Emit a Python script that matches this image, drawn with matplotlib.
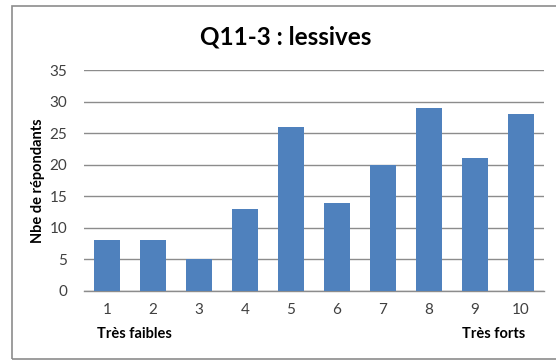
import numpy as np
import matplotlib
matplotlib.use('Agg')
import matplotlib.pyplot as plt
from matplotlib.patches import Rectangle

# Réponses Q11-3 (lessives), échelle de 1 à 10
notes = [1, 2, 3, 4, 5, 6, 7, 8, 9, 10]
repondants = [8, 8, 5, 13, 26, 14, 20, 29, 21, 28]
yticks = [0, 5, 10, 15, 20, 25, 30, 35]

plt.rcParams['font.family'] = ['Lato', 'DejaVu Sans']

W, H = 556, 361
fig = plt.figure(figsize=(W / 100, H / 100), dpi=100)

# cadre du graphique
fig.patches.append(Rectangle((12 / W, 2 / H), 1.0, 1 - 8 / H,
                             transform=fig.transFigure, fill=False,
                             edgecolor='#8c8c8c', linewidth=1.2))

ax = fig.add_axes([84 / W, 1 - 291 / H, 460 / W, 221 / H])
x = np.arange(len(notes))
ax.bar(x, repondants, width=0.565, color='#4f81bd', zorder=3)

ax.set_xlim(-0.5, len(notes) - 0.5)
ax.set_ylim(0, 35)
ax.set_yticks(yticks)
ax.set_xticks(x)
ax.set_xticklabels([str(n) for n in notes])
ax.grid(axis='y', color='#8c8c8c', linewidth=1.0, zorder=0)

for side in ['left', 'right', 'top']:
    ax.spines[side].set_visible(False)
ax.spines['bottom'].set_color('#8c8c8c')
ax.spines['bottom'].set_linewidth(1.0)
ax.tick_params(axis='x', length=0, pad=9, labelsize=11, labelcolor='#404040')
ax.tick_params(axis='y', length=0, pad=12, labelsize=11, labelcolor='#404040')

ax.set_ylabel('Nbe de répondants', fontsize=10.5, fontweight='bold', labelpad=3)

fig.text(286 / W, 1 - 37 / H, 'Q11-3 : lessives', ha='center', va='center',
         fontsize=17.5, fontweight='bold')
fig.text(134 / W, 1 - 334 / H, 'Très faibles', ha='center', va='center',
         fontsize=10.5, fontweight='bold')
fig.text(494 / W, 1 - 334 / H, 'Très forts', ha='center', va='center',
         fontsize=10.5, fontweight='bold')

fig.savefig('out.png', dpi=100)
